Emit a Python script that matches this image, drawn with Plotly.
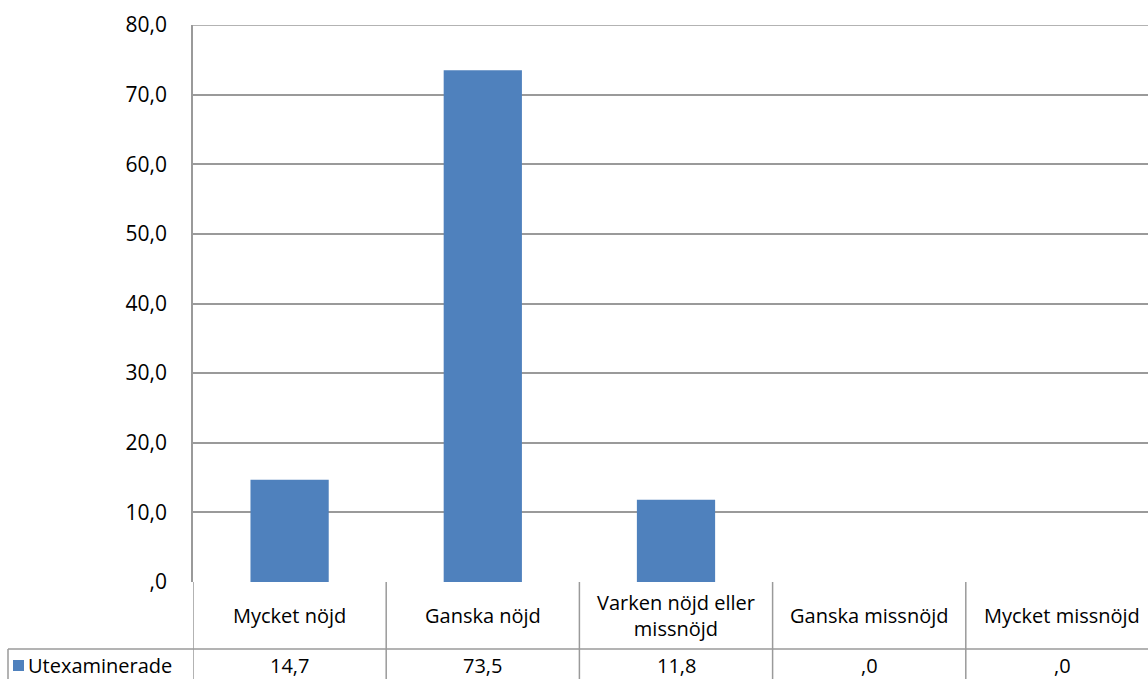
import plotly.graph_objects as go

categories = ["Mycket nöjd", "Ganska nöjd", "Varken nöjd eller missnöjd", "Ganska missnöjd", "Mycket missnöjd"]
header_labels = ["Mycket nöjd", "Ganska nöjd", "Varken nöjd eller<br>missnöjd", "Ganska missnöjd", "Mycket missnöjd"]
series_name = "Utexaminerade"
values = [14.7, 73.5, 11.8, 0.0, 0.0]
value_labels = ["14,7", "73,5", "11,8", ",0", ",0"]
y_tickvals = [0, 10, 20, 30, 40, 50, 60, 70, 80]
y_ticktext = [",0", "10,0", "20,0", "30,0", "40,0", "50,0", "60,0", "70,0", "80,0"]

W, H = 1148, 679
ML, MR, MT, MB = 193, 0, 25, 97
PW = W - ML - MR
PH = H - MT - MB
BAR = "#4F81BD"
GRID = "#9a9a9a"
FONT = "Open Sans"
FS = 20


def py(px):
    return (H - MB - px) / PH


def pxx(px):
    return (px - ML) / PW


fig = go.Figure()
fig.add_trace(go.Bar(x=list(range(len(categories))), y=values, name=series_name,
                     marker=dict(color=BAR, line=dict(width=0)), width=0.405,
                     hovertext=categories))

shapes = []
# top gridline at the axis maximum
shapes.append(dict(type="line", xref="paper", yref="y", x0=0, x1=1,
                   y0=y_tickvals[-1], y1=y_tickvals[-1], line=dict(color=GRID, width=1.5),
                   layer="below"))
for i in range(len(categories)):
    shapes.append(dict(type="line", xref="x", yref="paper", x0=i - 0.5, x1=i - 0.5,
                       y0=0, y1=py(H), line=dict(color=GRID, width=1.5)))
shapes.append(dict(type="line", xref="paper", yref="paper", x0=pxx(8), x1=1,
                   y0=py(649), y1=py(649), line=dict(color=GRID, width=1.5)))
shapes.append(dict(type="line", xref="paper", yref="paper", x0=pxx(8), x1=pxx(8),
                   y0=py(649), y1=py(H), line=dict(color=GRID, width=1.5)))
shapes.append(dict(type="rect", xref="paper", yref="paper", x0=pxx(13), x1=pxx(24),
                   y0=py(671), y1=py(660), fillcolor=BAR, line=dict(width=0)))

annotations = []
for i, lab in enumerate(header_labels):
    annotations.append(dict(x=i, xref="x", y=py(615), yref="paper", text=lab, showarrow=False,
                            font=dict(family=FONT, size=FS, color="#000"), yanchor="middle"))
for i, lab in enumerate(value_labels):
    annotations.append(dict(x=i, xref="x", y=py(665), yref="paper", text=lab, showarrow=False,
                            font=dict(family=FONT, size=FS, color="#000"), yanchor="middle"))
annotations.append(dict(x=pxx(26), xref="paper", y=py(665), yref="paper", text=series_name,
                        showarrow=False, xanchor="left", yanchor="middle",
                        font=dict(family=FONT, size=FS, color="#000")))

fig.update_layout(
    width=W, height=H,
    margin=dict(l=ML, r=MR, t=MT, b=MB),
    paper_bgcolor="white", plot_bgcolor="white",
    showlegend=False,
    shapes=shapes, annotations=annotations,
    xaxis=dict(range=[-0.5, -0.5 + PW / 193.2], showticklabels=False, showgrid=False,
               zeroline=False, showline=False, fixedrange=True),
    yaxis=dict(range=[0, 80], tickvals=y_tickvals, ticktext=y_ticktext, showgrid=True,
               gridcolor=GRID, gridwidth=1.5, zeroline=False, showline=True,
               linecolor=GRID, linewidth=1.5, ticks="", ticklabelstandoff=20,
               tickfont=dict(family=FONT, size=21, color="#000"), fixedrange=True),
)

fig.write_html("out.html", config={"displayModeBar": False},
               post_script="document.body.style.margin='0';document.body.style.padding='0';"
                           "document.body.style.overflow='hidden';")
